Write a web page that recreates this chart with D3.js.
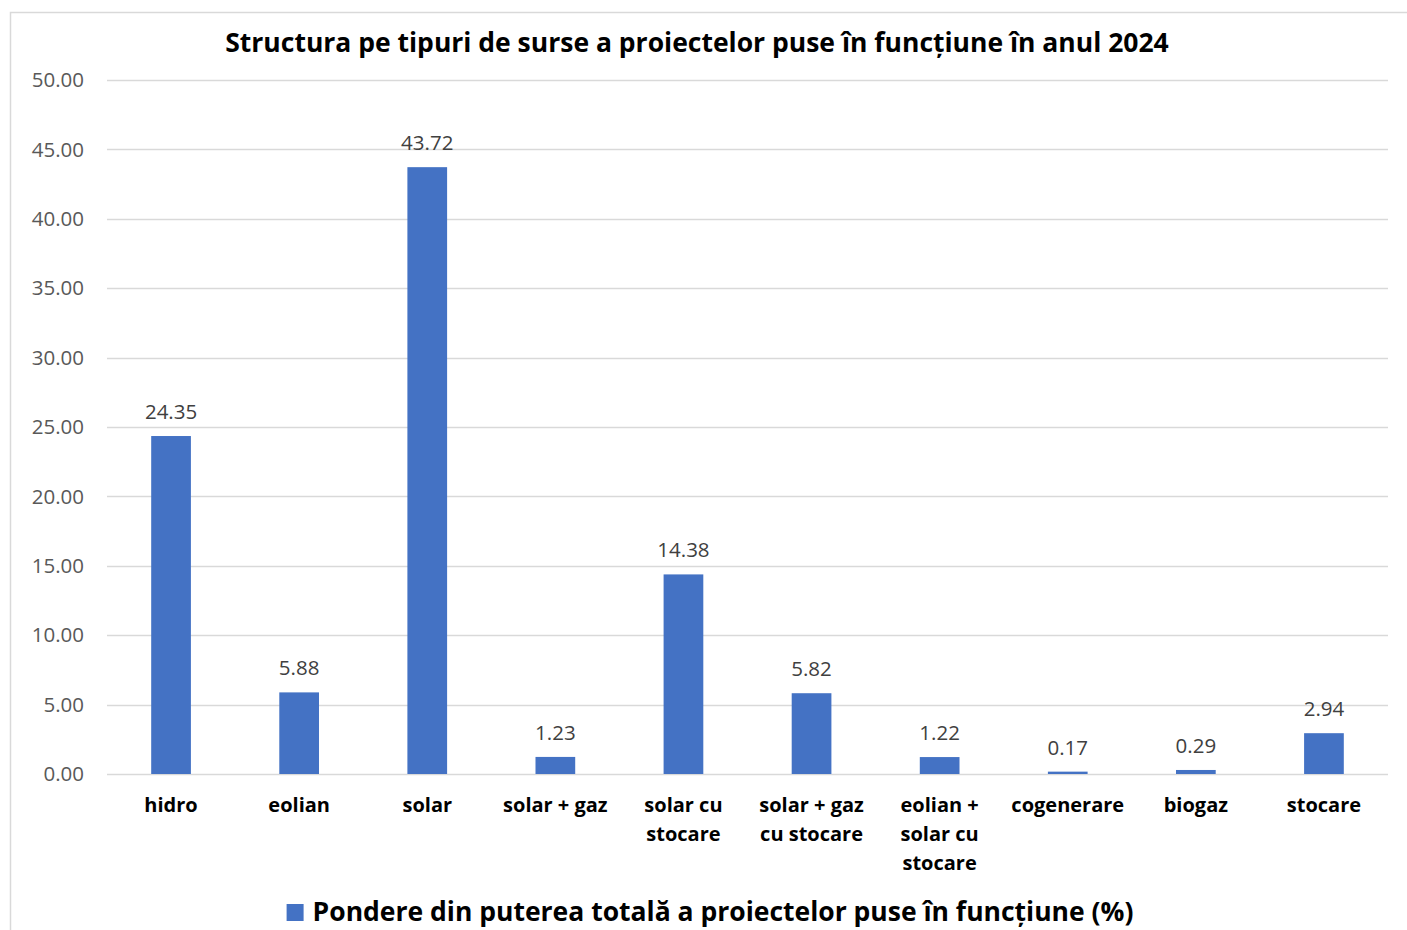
<!DOCTYPE html>
<html>
<head>
<meta charset="utf-8">
<script src="https://cdn.jsdelivr.net/npm/d3@7"></script>
<style>
  body { margin: 0; background: #fff; }
  svg text { font-family: "Open Sans", Lato, sans-serif; }
</style>
</head>
<body>
<div id="chart"></div>
<script>
// data
const categories = ["hidro", "eolian", "solar", "solar + gaz", "solar cu stocare",
  "solar + gaz cu stocare", "eolian + solar cu stocare", "cogenerare", "biogaz", "stocare"];
const labelLines = [["hidro"], ["eolian"], ["solar"], ["solar + gaz"], ["solar cu", "stocare"],
  ["solar + gaz", "cu stocare"], ["eolian +", "solar cu", "stocare"], ["cogenerare"], ["biogaz"], ["stocare"]];
const shares = [24.35, 5.88, 43.72, 1.23, 14.38, 5.82, 1.22, 0.17, 0.29, 2.94];
const yTicks = [0, 5, 10, 15, 20, 25, 30, 35, 40, 45, 50];
const title = "Structura pe tipuri de surse a proiectelor puse în funcțiune în anul 2024";
const seriesName = "Pondere din puterea totală a proiectelor puse în funcțiune (%)";

const width = 1407, height = 930;
const margin = { left: 107, right: 19, top: 80, bottom: 156 };

const svg = d3.select("#chart")
  .append("svg")
  .attr("width", width)
  .attr("height", height);

// chart frame
svg.append("rect")
  .attr("x", 10.5).attr("y", 12.5)
  .attr("width", width + 20).attr("height", height + 20)
  .attr("fill", "none")
  .attr("stroke", "#d9d9d9")
  .attr("stroke-width", 1.5);

const x = d3.scaleBand()
  .domain(categories)
  .range([margin.left, width - margin.right])
  .paddingInner(0.69)
  .paddingOuter(0.345);

const y = d3.scaleLinear()
  .domain([0, 50])
  .range([height - margin.bottom, margin.top]);

// gridlines
svg.append("g")
  .selectAll("line")
  .data(yTicks)
  .join("line")
  .attr("x1", margin.left)
  .attr("x2", width - margin.right)
  .attr("y1", d => Math.round(y(d)) + 0.5)
  .attr("y2", d => Math.round(y(d)) + 0.5)
  .attr("stroke", "#d9d9d9")
  .attr("stroke-width", 1.5);

// y axis labels
svg.append("g")
  .selectAll("text")
  .data(yTicks)
  .join("text")
  .attr("x", 84)
  .attr("y", d => y(d))
  .attr("dy", "0.35em")
  .attr("text-anchor", "end")
  .style("font-size", "20.5px")
  .style("fill", "#595959")
  .text(d => d3.format(".2f")(d));

// bars
svg.append("g")
  .selectAll("rect")
  .data(shares)
  .join("rect")
  .attr("x", (d, i) => x(categories[i]))
  .attr("width", x.bandwidth())
  .attr("y", d => y(d))
  .attr("height", d => y(0) - y(d))
  .attr("fill", "#4472c4");

// data labels
svg.append("g")
  .selectAll("text")
  .data(shares)
  .join("text")
  .attr("x", (d, i) => x(categories[i]) + x.bandwidth() / 2)
  .attr("y", d => y(d) - 17)
  .attr("text-anchor", "middle")
  .style("font-size", "20.5px")
  .style("fill", "#404040")
  .text(d => d3.format(".2f")(d));

// category labels
const cat = svg.append("g")
  .selectAll("text")
  .data(categories)
  .join("text")
  .attr("x", d => x(d) + x.bandwidth() / 2)
  .attr("y", 812)
  .attr("text-anchor", "middle")
  .style("font-size", "20px")
  .style("font-weight", "bold")
  .style("fill", "#000");

cat.selectAll("tspan")
  .data((d, i) => labelLines[i])
  .join("tspan")
  .attr("x", function () { return d3.select(this.parentNode).attr("x"); })
  .attr("dy", (d, i) => i === 0 ? 0 : 29)
  .text(d => d);

// title
svg.append("text")
  .attr("x", 697)
  .attr("y", 52)
  .attr("text-anchor", "middle")
  .style("font-size", "26.5px")
  .style("font-weight", "bold")
  .style("fill", "#000")
  .text(title);

// legend
const legend = svg.append("g");
const legendText = legend.append("text")
  .attr("y", 921)
  .style("font-size", "26.5px")
  .style("font-weight", "bold")
  .style("fill", "#000")
  .text(seriesName);
const lw = legendText.node().getComputedTextLength();
const total = 17 + 9 + lw;
const lx = 710 - total / 2;
legend.append("rect")
  .attr("x", lx).attr("y", 904)
  .attr("width", 17).attr("height", 17)
  .attr("fill", "#4472c4");
legendText.attr("x", lx + 26);
</script>
</body>
</html>
